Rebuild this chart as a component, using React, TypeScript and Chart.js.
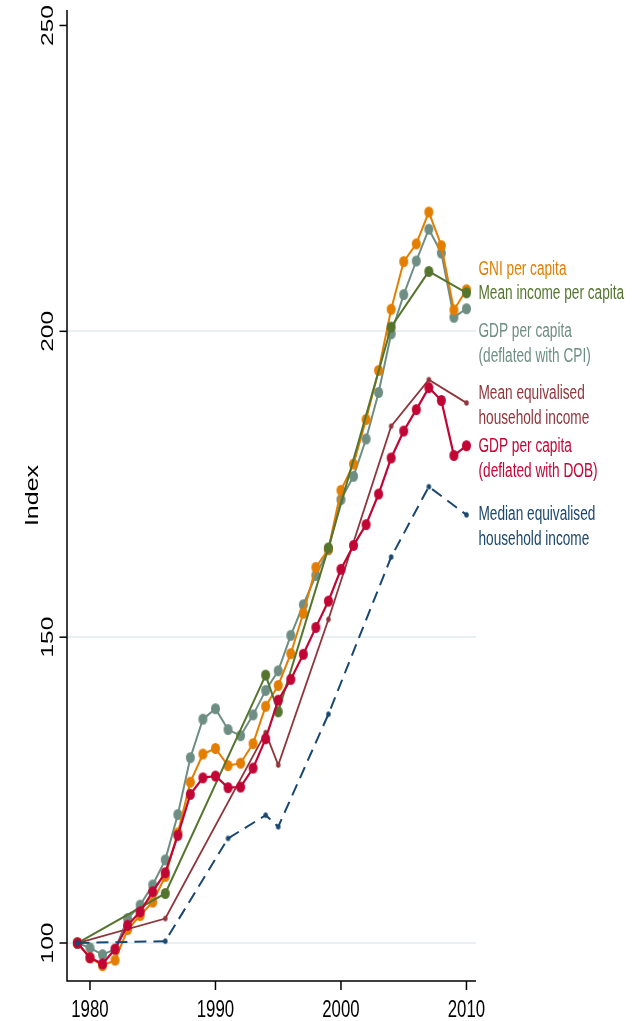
import React, { useEffect, useRef } from "react";
import { Chart, registerables } from "chart.js";

Chart.register(...registerables);

// ---------- data ----------
const annualYears = [
  1979, 1980, 1981, 1982, 1983, 1984, 1985, 1986, 1987, 1988, 1989, 1990, 1991, 1992, 1993, 1994,
  1995, 1996, 1997, 1998, 1999, 2000, 2001, 2002, 2003, 2004, 2005, 2006, 2007, 2008, 2009, 2010,
];
const gniPerCapita = [
  100, 97.6, 96.3, 97.2, 102.2, 104.5, 106.7, 110.9, 118.0, 126.3, 130.9, 131.8, 129.0, 129.4, 132.6, 138.7,
  142.1, 147.3, 153.9, 161.4, 164.4, 174.0, 178.3, 185.6, 193.6, 203.6, 211.4, 214.3, 219.5, 214.0, 203.5, 206.8,
];
const gdpPerCapitaCPI = [
  100, 99.2, 98.1, 99.0, 104.0, 106.2, 109.5, 113.6, 121.0, 130.3, 136.6, 138.3, 134.9, 133.9, 137.3, 141.3,
  144.5, 150.3, 155.3, 160.1, 164.3, 172.5, 176.3, 182.4, 190.0, 199.6, 206.0, 211.5, 216.7, 212.8, 202.3, 203.7,
];
const gdpPerCapitaDOB = [
  100, 97.6, 96.6, 99.0, 102.9, 105.1, 108.4, 111.5, 117.6, 124.3, 127.0, 127.3, 125.4, 125.5, 128.6, 133.4,
  139.7, 143.1, 147.2, 151.6, 155.9, 161.1, 165.0, 168.4, 173.4, 179.3, 183.7, 187.2, 190.8, 188.7, 179.7, 181.3,
];
const surveyYears = [1979, 1986, 1994, 1995, 1999, 2004, 2007, 2010];
const meanIncomePerCapita = [100, 108.1, 143.8, 137.8, 164.6, 200.7, 209.8, 206.3];
const meanEquivalisedIncome = [100, 104.0, 134.4, 129.1, 152.9, 184.5, 192.1, 188.3];
const medianYears = [1979, 1986, 1991, 1994, 1995, 1999, 2004, 2007, 2010];
const medianEquivalisedIncome = [100, 100.3, 117.1, 120.9, 119.0, 137.4, 163.1, 174.6, 170.0];

const yTicks = [100, 150, 200, 250];
const yGridValues = [100, 150, 200];
const xTicks = [1980, 1990, 2000, 2010];
const yAxisTitle = "Index";

const labelGNI = ["GNI per capita"];
const labelMeanIncome = ["Mean income per capita"];
const labelGdpCPI = ["GDP per capita", "(deflated with CPI)"];
const labelMeanEquiv = ["Mean equivalised", "household income"];
const labelGdpDOB = ["GDP per capita", "(deflated with DOB)"];
const labelMedianEquiv = ["Median equivalised", "household income"];

// ---------- style ----------
const C_ORANGE = "#e37e00";
const C_GREEN = "#55752f";
const C_TEAL = "#6e8e84";
const C_MAROON = "#90353b";
const C_CRANBERRY = "#c10534";
const C_NAVY = "#1a476f";
const GRID_COLOR = "#e8f0f2";
const SQUEEZE = 0.7;
const FONT = '"Liberation Sans", Arial, sans-serif';

const W = 643;
const H = 1021;

function makeMarker(color: string, w: number, h: number): HTMLCanvasElement {
  const c = document.createElement("canvas");
  c.width = Math.ceil(w) + 2;
  c.height = Math.ceil(h) + 2;
  const ctx = c.getContext("2d")!;
  ctx.fillStyle = color;
  ctx.beginPath();
  ctx.ellipse(c.width / 2, c.height / 2, w / 2, h / 2, 0, 0, Math.PI * 2);
  ctx.fill();
  return c;
}

function pts(xs: number[], ys: number[]) {
  return xs.map((x, i) => ({ x, y: ys[i] }));
}

export default function App() {
  const ref = useRef<HTMLCanvasElement | null>(null);

  useEffect(() => {
    document.body.style.margin = "0";
    const canvas = ref.current;
    if (!canvas) return;

    const labelBlocks: { lines: string[]; color: string; ys: number[] }[] = [
      { lines: labelGNI, color: C_ORANGE, ys: [270] },
      { lines: labelMeanIncome, color: C_GREEN, ys: [294] },
      { lines: labelGdpCPI, color: C_TEAL, ys: [331.5, 356.5] },
      { lines: labelMeanEquiv, color: C_MAROON, ys: [394, 418.5] },
      { lines: labelGdpDOB, color: C_CRANBERRY, ys: [446.5, 471.5] },
      { lines: labelMedianEquiv, color: C_NAVY, ys: [515, 540] },
    ];

    const decor = {
      id: "stataDecor",
      beforeDatasetsDraw(chart: any) {
        const { ctx, chartArea, scales } = chart;
        const y = scales.y;
        ctx.save();
        ctx.strokeStyle = GRID_COLOR;
        ctx.lineWidth = 2;
        yGridValues.forEach((v) => {
          const py = Math.round(y.getPixelForValue(v));
          ctx.beginPath();
          ctx.moveTo(chartArea.left, py);
          ctx.lineTo(chartArea.right, py);
          ctx.stroke();
        });
        ctx.restore();
      },
      afterDraw(chart: any) {
        const { ctx, chartArea, scales } = chart;
        const x = scales.x;
        const y = scales.y;
        ctx.save();
        ctx.strokeStyle = "#000";
        ctx.lineWidth = 1.5;
        ctx.beginPath();
        ctx.moveTo(chartArea.left, chartArea.top);
        ctx.lineTo(chartArea.left, chartArea.bottom);
        ctx.lineTo(chartArea.right, chartArea.bottom);
        ctx.stroke();
        yTicks.forEach((v) => {
          const py = y.getPixelForValue(v);
          ctx.beginPath();
          ctx.moveTo(chartArea.left - 7.5, py);
          ctx.lineTo(chartArea.left, py);
          ctx.stroke();
          ctx.save();
          ctx.translate(chartArea.left - 14, py);
          ctx.scale(SQUEEZE, 1);
          ctx.rotate(-Math.PI / 2);
          ctx.fillStyle = "#000";
          ctx.font = `24.5px ${FONT}`;
          ctx.textAlign = "center";
          ctx.textBaseline = "alphabetic";
          ctx.fillText(String(v), 0, 0);
          ctx.restore();
        });
        ctx.save();
        ctx.translate(38, (chartArea.top + chartArea.bottom) / 2);
        ctx.scale(SQUEEZE, 1);
        ctx.rotate(-Math.PI / 2);
        ctx.fillStyle = "#000";
        ctx.font = `25px ${FONT}`;
        ctx.textAlign = "center";
        ctx.textBaseline = "alphabetic";
        ctx.fillText(yAxisTitle, 0, 0);
        ctx.restore();
        xTicks.forEach((v) => {
          const px = x.getPixelForValue(v);
          ctx.beginPath();
          ctx.moveTo(px, chartArea.bottom);
          ctx.lineTo(px, chartArea.bottom + 9);
          ctx.stroke();
          ctx.save();
          ctx.translate(px, chartArea.bottom + 35.5);
          ctx.scale(SQUEEZE, 1);
          ctx.fillStyle = "#000";
          ctx.font = `24px ${FONT}`;
          ctx.textAlign = "center";
          ctx.textBaseline = "alphabetic";
          ctx.fillText(String(v), 0, 0);
          ctx.restore();
        });
        labelBlocks.forEach((b) => {
          b.lines.forEach((line, i) => {
            ctx.save();
            ctx.translate(chartArea.right + 2.5, b.ys[i]);
            ctx.scale(SQUEEZE, 1);
            ctx.fillStyle = b.color;
            ctx.font = `19.5px ${FONT}`;
            ctx.textAlign = "left";
            ctx.textBaseline = "middle";
            ctx.fillText(line, 0, 0);
            ctx.restore();
          });
        });
        ctx.restore();
      },
    };

    const big = (c: string) => makeMarker(c, 9, 11);
    const small = (c: string) => makeMarker(c, 4.5, 5.5);

    const chart = new Chart(canvas, {
      type: "line",
      data: {
        datasets: [
          {
            label: "Median equivalised household income",
            data: pts(medianYears, medianEquivalisedIncome),
            borderColor: C_NAVY,
            backgroundColor: C_NAVY,
            borderWidth: 2,
            borderDash: [12, 7],
            pointStyle: small(C_NAVY) as any,
            pointRadius: 3,
            order: 0,
          },
          {
            label: "GDP per capita (deflated with DOB)",
            data: pts(annualYears, gdpPerCapitaDOB),
            borderColor: C_CRANBERRY,
            backgroundColor: C_CRANBERRY,
            borderWidth: 2.2,
            pointStyle: big(C_CRANBERRY) as any,
            pointRadius: 5,
            order: 1,
          },
          {
            label: "Mean equivalised household income",
            data: pts(surveyYears, meanEquivalisedIncome),
            borderColor: C_MAROON,
            backgroundColor: C_MAROON,
            borderWidth: 1.8,
            pointStyle: small(C_MAROON) as any,
            pointRadius: 3,
            order: 2,
          },
          {
            label: "Mean income per capita",
            data: pts(surveyYears, meanIncomePerCapita),
            borderColor: C_GREEN,
            backgroundColor: C_GREEN,
            borderWidth: 2,
            pointStyle: big(C_GREEN) as any,
            pointRadius: 5,
            order: 3,
          },
          {
            label: "GNI per capita",
            data: pts(annualYears, gniPerCapita),
            borderColor: C_ORANGE,
            backgroundColor: C_ORANGE,
            borderWidth: 2,
            pointStyle: big(C_ORANGE) as any,
            pointRadius: 5,
            order: 4,
          },
          {
            label: "GDP per capita (deflated with CPI)",
            data: pts(annualYears, gdpPerCapitaCPI),
            borderColor: C_TEAL,
            backgroundColor: C_TEAL,
            borderWidth: 2,
            pointStyle: big(C_TEAL) as any,
            pointRadius: 5,
            order: 5,
          },
        ],
      },
      options: {
        animation: false,
        responsive: false,
        devicePixelRatio: 1,
        layout: { padding: { left: 67, right: W - 476, top: 10, bottom: H - 981 } },
        plugins: { legend: { display: false }, tooltip: { enabled: false }, title: { display: false } },
        elements: { line: { tension: 0 } },
        scales: {
          x: { type: "linear", display: false, min: 1978.17, max: 2010.76 },
          y: { type: "linear", display: false, min: 93.79, max: 252.53 },
        },
      },
      plugins: [decor],
    });

    return () => chart.destroy();
  }, []);

  return (
    <div style={{ width: W, height: H, background: "#fff" }}>
      <canvas ref={ref} width={W} height={H} style={{ display: "block", width: W, height: H }} />
    </div>
  );
}
